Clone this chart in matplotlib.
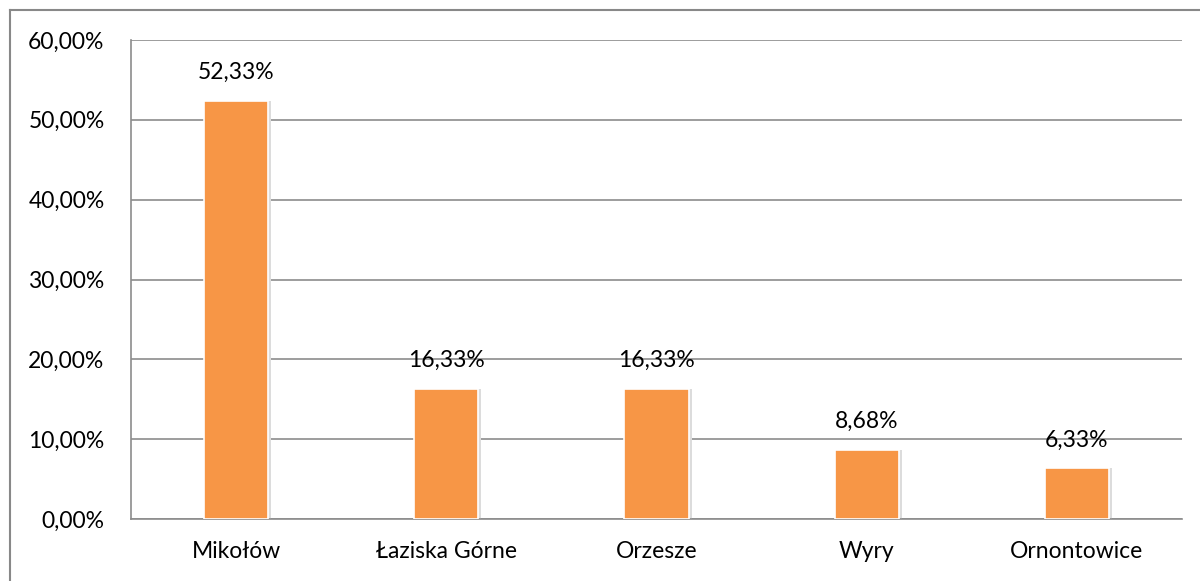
import matplotlib
matplotlib.use("Agg")
import matplotlib.pyplot as plt
from matplotlib.lines import Line2D

categories = ["Mikołów", "Łaziska Górne", "Orzesze", "Wyry", "Ornontowice"]
values = [52.33, 16.33, 16.33, 8.68, 6.33]
value_labels = ["52,33%", "16,33%", "16,33%", "8,68%", "6,33%"]
yticks = [0, 10, 20, 30, 40, 50, 60]
ytick_labels = ["0,00%", "10,00%", "20,00%", "30,00%", "40,00%", "50,00%", "60,00%"]

plt.rcParams['font.family'] = ['Lato', 'DejaVu Sans']
FS = 16.5

W, H = 1200, 581
fig = plt.figure(figsize=(W/100, H/100), dpi=100)
# figure border (top and left only visible)
fig.lines.append(Line2D([9.5/W, 1], [1 - 10/H, 1 - 10/H], transform=fig.transFigure,
                        color="#888888", linewidth=1.5))
fig.lines.append(Line2D([9.5/W, 9.5/W], [0, 1 - 10/H], transform=fig.transFigure,
                        color="#888888", linewidth=1.5))

left, right, top, bottom = 131, 1182, 40, 519
ax = fig.add_axes([left/W, 1 - bottom/H, (right-left)/W, (bottom-top)/H])

x = list(range(len(categories)))
# soft shadow
ax.bar([i + 0.012 for i in x], values, width=0.31, color="#dcdcdc", zorder=2, linewidth=0)
ax.bar(x, values, width=0.305, color="#F79646", edgecolor="white", linewidth=1.2, zorder=3)

for i, (v, lab) in enumerate(zip(values, value_labels)):
    ax.annotate(lab, (i, v), xytext=(0, 20.5), textcoords="offset points",
                ha="center", va="center", fontsize=FS, color="black")

ax.set_xlim(-0.5, len(categories) - 0.5)
ax.set_ylim(0, 60)
ax.set_yticks(yticks)
ax.set_yticklabels(ytick_labels, fontsize=FS)
ax.set_xticks(x)
ax.set_xticklabels(categories, fontsize=FS)
ax.tick_params(axis="both", length=0)
ax.tick_params(axis="y", pad=19)
ax.tick_params(axis="x", pad=16)
ax.yaxis.grid(True, color="#8c8c8c", linewidth=1.2, zorder=0)
ax.set_axisbelow(True)
for s in ["top", "right"]:
    ax.spines[s].set_visible(False)
ax.spines["left"].set_color("#8c8c8c")
ax.spines["bottom"].set_color("#8c8c8c")
ax.spines["left"].set_linewidth(1.2)
ax.spines["bottom"].set_linewidth(1.2)

fig.savefig("out.png", dpi=100)
